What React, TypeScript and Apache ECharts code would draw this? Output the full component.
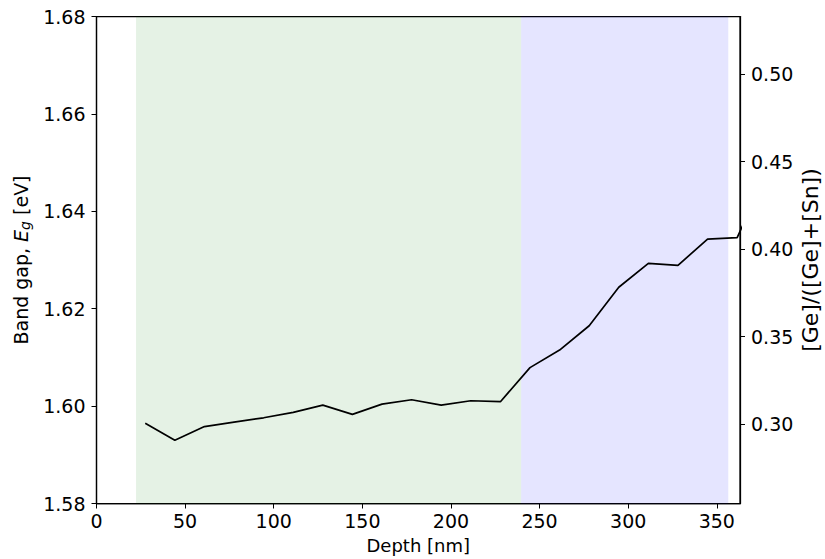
import React, { useEffect, useRef } from "react";
import * as echarts from "echarts";

// Depth positions (nm) and band gap values (eV)
const depths = [27.5, 44.2, 60.9, 77.6, 94.3, 111.0, 127.7, 144.4, 161.1, 177.8, 194.5, 211.2, 227.9, 244.6, 261.3, 278.0, 294.7, 311.4, 328.1, 344.8, 361.5, 378.2];
const bandGap = [1.5965, 1.5930, 1.5958, 1.5967, 1.5976, 1.5987, 1.6002, 1.5983, 1.6004, 1.6013, 1.6002, 1.6011, 1.6009, 1.6079, 1.6115, 1.6165, 1.6244, 1.6293, 1.6289, 1.6343, 1.6346, 1.6480];

// Shaded depth regions [start, end]
const greenRegion = [22.3, 239.6];
const blueRegion = [239.6, 356.5];

// Tick values
const xTicks = [0, 50, 100, 150, 200, 250, 300, 350];
const leftTicks = [1.58, 1.6, 1.62, 1.64, 1.66, 1.68];
const rightTicks = [0.3, 0.35, 0.4, 0.45, 0.5];

const rightAxisTitle = "[Ge]/([Ge]+[Sn])";

const FONT = "DejaVu Sans";

export default function App() {
  const ref = useRef<HTMLDivElement>(null);
  useEffect(() => {
    if (!ref.current) return;
    const chart = echarts.init(ref.current, null, { renderer: "svg" });
    const axisLine = { show: true, lineStyle: { color: "#000", width: 1.25 } };
    const axisTick = { show: true, length: 5, lineStyle: { color: "#000", width: 1 } };
    chart.setOption({
      animation: false,
      backgroundColor: "#fff",
      grid: {
        left: 96.5,
        right: 85,
        top: 16.5,
        bottom: 55.5,
        show: true,
        borderColor: "#000",
        borderWidth: 1.25,
        backgroundColor: "transparent",
        containLabel: false,
        outerBoundsMode: "none",
      },
      graphic: [
        {
          type: "text",
          x: 810,
          y: 260,
          rotation: Math.PI / 2,
          style: {
            text: rightAxisTitle,
            fontSize: 22,
            fontFamily: FONT,
            fill: "#000",
            align: "center",
            verticalAlign: "middle",
          },
        },
      ],
      xAxis: {
        type: "value",
        min: 0,
        max: 363.1,
        splitLine: { show: false },
        axisLine,
        axisTick: { ...axisTick, customValues: xTicks },
        axisLabel: {
          customValues: xTicks,
          color: "#000",
          fontSize: 19,
          fontFamily: FONT,
          margin: 8,
        },
        name: "Depth [nm]",
        nameLocation: "middle",
        nameGap: 33,
        nameTextStyle: { color: "#000", fontSize: 18, fontFamily: FONT },
      },
      yAxis: [
        {
          type: "value",
          min: 1.58,
          max: 1.68,
          position: "left",
          splitLine: { show: false },
          axisLine,
          axisTick: { ...axisTick, customValues: leftTicks },
          axisLabel: {
            customValues: leftTicks,
            formatter: (v: number) => v.toFixed(2),
            color: "#000",
            fontSize: 19,
            fontFamily: FONT,
            margin: 11,
          },
          name: "{n|Band gap, }{i|E}{s|g}{n| [eV]}",
          nameLocation: "middle",
          nameRotate: 90,
          nameGap: 61,
          nameTextStyle: {
            color: "#000",
            fontFamily: FONT,
            fontSize: 19,
            rich: {
              n: { fontSize: 19, fontFamily: FONT, color: "#000" },
              i: { fontSize: 19, fontFamily: FONT, fontStyle: "italic", color: "#000" },
              s: { fontSize: 14, fontFamily: FONT, fontStyle: "italic", color: "#000", padding: [8, 0, 0, 0] },
            },
          },
        },
        {
          type: "value",
          min: 0.2546,
          max: 0.5329,
          position: "right",
          splitLine: { show: false },
          axisLine,
          axisTick: { ...axisTick, customValues: rightTicks },
          axisLabel: {
            customValues: rightTicks,
            formatter: (v: number) => v.toFixed(2),
            color: "#000",
            fontSize: 19,
            fontFamily: FONT,
            margin: 11,
          },
        },
      ],
      series: [
        {
          type: "line",
          yAxisIndex: 0,
          data: depths.map((d, i) => [d, bandGap[i]]),
          showSymbol: false,
          symbol: "none",
          clip: true,
          lineStyle: { color: "#000", width: 1.7 },
          z: 5,
          markArea: {
            silent: true,
            data: [
              [
                { xAxis: greenRegion[0], itemStyle: { color: "rgba(0,128,0,0.1)" } },
                { xAxis: greenRegion[1] },
              ],
              [
                { xAxis: blueRegion[0], itemStyle: { color: "rgba(0,0,255,0.1)" } },
                { xAxis: blueRegion[1] },
              ],
            ],
          },
        },
        {
          type: "line",
          yAxisIndex: 1,
          data: [],
        },
      ],
    });
    return () => chart.dispose();
  }, []);
  return <div ref={ref} style={{ width: 825, height: 559, position: "absolute", left: 0, top: 0 }} />;
}
